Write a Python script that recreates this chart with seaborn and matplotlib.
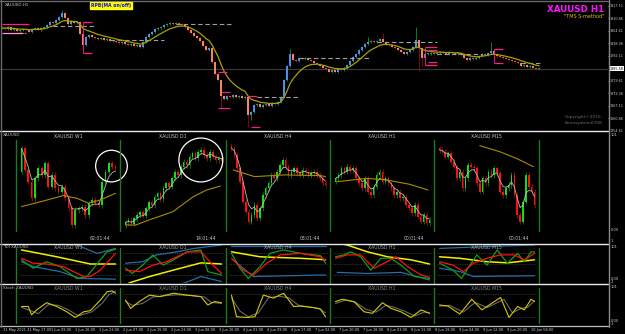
import numpy as np
import pandas as pd
import matplotlib
matplotlib.use("Agg")
import matplotlib.pyplot as plt
from matplotlib.lines import Line2D
import matplotlib.transforms as mtransforms
import seaborn as sns

sns.set_theme(style="dark")
plt.rcParams["font.family"] = ["DejaVu Sans"]

W, H = 625, 334

# ---------------- main chart data (XAUUSD H1) ----------------
main_open0 = 1906.5
main_close = [
    1906, 1905.5, 1906.5, 1905, 1905.5, 1904.5, 1905,
    1905.5, 1905, 1904, 1905.5, 1906, 1905, 1906, 1906.5,
    1907.5, 1909, 1908.5, 1910, 1911.5,
    1913.5, 1911, 1908, 1909.5, 1908.5, 1909, 1903, 1897.5, 1901.5, 1902.5,
    1901.5, 1901, 1900.5, 1901, 1900, 1900.5, 1899.5, 1899.5, 1899, 1898.5, 1899, 1898, 1897.5, 1898, 1897, 1897.5, 1896.5,
    1899, 1901.5, 1903,
    1904, 1905.5, 1906, 1906.5, 1907.5, 1908, 1908.5,
    1908, 1908.5, 1908, 1907.5,
    1906.5, 1905, 1903.5, 1902, 1901, 1899.5,
    1897, 1895, 1896,
    1889, 1883, 1880, 1872, 1870.5,
    1872, 1871.5, 1872.5, 1871.5, 1872, 1871, 1871.5,
    1862.5, 1864, 1867.5, 1868, 1866.5, 1867.5, 1868, 1867, 1868.5, 1868, 1869, 1871.5,
    1880, 1887, 1893,
    1890, 1889.5, 1891, 1890.5, 1891, 1890,
    1889.5, 1888.5, 1888, 1887, 1886, 1885.5, 1884, 1885, 1884, 1885.5, 1885,
    1886, 1887.5, 1889.5, 1891.5, 1893, 1895, 1896.5, 1898, 1899,
    1899.5, 1899, 1899.5, 1900.5, 1899,
    1898, 1897.5, 1896.5, 1896, 1895, 1894, 1893, 1894, 1895,
    1896.5, 1900, 1896, 1891, 1893,
    1893, 1893.5, 1893, 1893.5, 1894, 1893.5, 1893, 1894, 1893.5, 1893, 1893.5,
    1892.5, 1891, 1890, 1891, 1890.5, 1891, 1892,
    1893, 1892.5, 1893.5, 1894.5, 1893,
    1892, 1891.5, 1891, 1890.5, 1890, 1889.5, 1889, 1888.5,
    1887, 1887.5, 1886.5, 1887, 1886, 1885.5, 1886,
]
main_high_spikes = {20: 1915.0, 96: 1895.5, 122: 1901.5, 127: 1903.5, 138: 1906.5, 163: 1899.0}
main_low_spikes = {27: 1893.5, 73: 1866.0, 82: 1856.5, 83: 1860.0, 139: 1884.0, 140: 1887.0}
main_price_ticks = [1917.11, 1910.86, 1904.61, 1898.36, 1892.11, 1879.61, 1873.36, 1867.11, 1860.86, 1854.61]
last_price = 1885.58
date_labels = ["31 May 2021", "31 May 17:00", "1 Jun 09:00", "1 Jun 16:00", "1 Jun 23:00",
               "2 Jun 07:00", "2 Jun 15:00", "2 Jun 23:00", "3 Jun 08:00", "3 Jun 16:00",
               "4 Jun 01:00", "4 Jun 09:00", "4 Jun 17:00", "7 Jun 02:00", "7 Jun 10:00",
               "7 Jun 18:00", "8 Jun 03:00", "8 Jun 11:00", "8 Jun 19:00", "9 Jun 04:00",
               "9 Jun 12:00", "9 Jun 20:00", "10 Jun 04:00"]
pivot_level = [1903.5, 1907.0, 1900.0, 1908.0, 1871.5, 1891.0, 1899.0, 1893.0, 1888.5]
pivot_from = [5, 17, 36, 58, 85, 99, 125, 145, 173]
pivot_to = [8, 31, 54, 77, 99, 123, 145, 160, 180]
bracket_level = [1908.0, 1903.5, 1909.0, 1893.5, 1884.0, 1874.0, 1866.0, 1872.0, 1856.5,
                 1896.5, 1895.0, 1889.0, 1887.5, 1895.5, 1888.5]
bracket_from = [0, 0, 27, 27, 72, 73, 72, 82, 83, 141, 142, 142, 141, 164, 164]
bracket_to = [9, 7, 30, 30, 75, 76, 76, 85, 86, 145, 145, 145, 145, 167, 167]

# ---------------- multi-timeframe panel ----------------
tf_names = ["XAUUSD W1", "XAUUSD D1", "XAUUSD H4", "XAUUSD H1", "XAUUSD M15"]
tf_timers = ["62:01:44", "14:01:44", "03:01:44", "00:01:44", "00:01:44"]

w1_open0 = 1832
w1_close = [1916, 1838, 1796, 1736, 1808, 1844, 1820, 1862, 1778, 1820, 1772, 1760, 1778, 1736, 1700,
            1640, 1694, 1700, 1706, 1676, 1718, 1730, 1718, 1712, 1796, 1832, 1862, 1850, 1844]
w1_slow_x = [0, 6.5, 12.5, 16.5, 20, 23.5, 28]
w1_slow_y = [1706, 1726, 1746, 1736, 1718, 1730, 1754]

d1_open0 = 1755
d1_close = [1760.2, 1764.8, 1757.6, 1768, 1774.5, 1779.7, 1773.2, 1787.5, 1799.2, 1794, 1810.3, 1816.8,
            1805.7, 1826.5, 1836.3, 1829.8, 1846, 1859, 1852.5, 1868.8, 1878.5, 1872, 1888.3, 1894.8,
            1885, 1898, 1901.3, 1891.5, 1885, 1898, 1888.3, 1881.8, 1885, 1879.8]
d1_slow_x = [0, 3.5, 8.1, 16.3, 23.3, 27.9, 32.6]
d1_slow_y = [1755, 1755, 1764.8, 1781, 1810.3, 1823.3, 1831]

h4_open0 = 1914.2
h4_close = [1912.2, 1907.1, 1896.9, 1886.7, 1871.4, 1863.7, 1856.1, 1861.2, 1868.8, 1858.6, 1866.3, 1876.5,
            1881.6, 1885.4, 1891.8, 1889.2, 1894.3, 1899.4, 1903.2, 1898.1, 1891.8, 1894.3, 1896.9, 1893,
            1891.8, 1895.6, 1894.3, 1891.8, 1893, 1894.3, 1891.8, 1889.2, 1885.4, 1884.1]
h4_slow_x = [0.6, 8.1, 18.6, 31.4, 33]
h4_slow_y = [1895.6, 1890.5, 1891.8, 1891.2, 1890.5]

h1_open0 = 1886
h1_close = [1888, 1890, 1894, 1892, 1895, 1893, 1894, 1888, 1885, 1882, 1888, 1880, 1878, 1883, 1890,
            1892, 1886, 1888, 1885, 1882, 1878, 1880, 1876, 1877, 1872, 1870, 1867, 1872, 1865, 1862,
            1866, 1861, 1863]
h1_slow_x = [0.6, 10.7, 17.4, 25.3, 31.5]
h1_slow_y = [1886, 1888, 1887, 1884.4, 1881]

m15_open0 = 1893
m15_close = [1892.5, 1892, 1890.5, 1891.5, 1889, 1887.5, 1884, 1886, 1881, 1884, 1888, 1887.5, 1887,
             1882.5, 1880, 1884, 1882.5, 1886, 1885, 1887, 1885.5, 1880, 1879, 1881, 1882, 1885, 1879,
             1873, 1871, 1877, 1885, 1881.5, 1880, 1876]
m15_slow_x = [14, 20.9, 26.7, 32.6]
m15_slow_y = [1893.8, 1892, 1890, 1887.5]

# ---------------- TDI (bar position, value) ----------------
tdi_w1_upper = [(0, 104), (10, 106), (16.5, 100), (22.5, 78), (28, 91)]
tdi_w1_lower = [(0, 56), (3.5, 43), (11.5, 30), (17.5, 12), (28, 10)]
tdi_w1_base = [(0, 87), (10.5, 69), (20.5, 50), (28, 50)]
tdi_w1_rsi = [(0, 61), (3.5, 39), (7.5, 56), (11.5, 43), (16.5, 12), (19.5, 17), (23.5, 61), (25.5, 82), (28, 89)]
tdi_w1_sig = [(0, 65), (3.5, 52), (7.5, 50), (12.5, 43), (18.5, 17), (20.5, 17), (23.5, 34), (28, 78)]

tdi_d1_upper = [(0, 52), (5, 56), (9, 74), (15, 82), (20, 91), (28, 100)]
tdi_d1_lower = [(15, -5), (17.5, 1), (22, 17), (28, 4)]
tdi_d1_base = [(1, 0), (7, 17), (14, 34), (22, 53), (28, 50)]
tdi_d1_rsi = [(0, 39), (2, 25), (5, 47), (8, 74), (11, 47), (14, 61), (18, 82), (22, 87), (24, 30), (28, 21)]
tdi_d1_sig = [(0, 34), (4, 30), (8, 47), (12, 56), (18, 82), (22, 82), (25, 52), (28, 25)]

tdi_h4_upper = [(0, 98), (28, 98)]
tdi_h4_lower = [(0.5, 61), (6.5, 17), (26.5, 21), (28, 21)]
tdi_h4_base = [(0, 82), (8.5, 69), (20.5, 65), (26.5, 62), (28, 61)]
tdi_h4_rsi = [(0, 78), (2.5, 39), (5, 12), (8.5, 43), (11.5, 78), (15.5, 87), (20.5, 78), (26.5, 72), (28, 52)]
tdi_h4_sig = [(0, 65), (3.5, 34), (6.5, 21), (10.5, 52), (14.5, 74), (20.5, 78), (26.5, 69), (28, 60)]

tdi_h1_upper = [(0, 104), (28, 104)]
tdi_h1_lower = [(0.5, 28), (9.5, 25), (19.5, 28), (28, 8)]
tdi_h1_base = [(0, 106), (3.5, 100), (9.5, 82), (15.5, 69), (22.5, 61), (28, 50)]
tdi_h1_rsi = [(0, 69), (2.5, 74), (4.5, 82), (7.5, 69), (10.5, 34), (13.5, 65), (16.5, 65), (19.5, 47), (23.5, 17), (28, 12)]
tdi_h1_sig = [(0, 65), (3.5, 74), (7.5, 74), (11.5, 39), (14.5, 52), (18, 69), (21.5, 43), (25.5, 21), (28, 15)]

tdi_m15_upper = [(0, 91), (14, 96), (28, 100)]
tdi_m15_lower = [(0, 39), (6, 30), (10, 17), (18, 18), (28, 19)]
tdi_m15_base = [(0, 69), (6, 65), (14, 56), (20, 53), (28, 61)]
tdi_m15_rsi = [(0, 52), (4, 34), (6.5, 12), (9, 47), (11, 74), (14, 47), (17, 87), (20, 52), (23, 78), (25, 56), (27, 82), (28, 82)]
tdi_m15_sig = [(0, 56), (4, 47), (7, 30), (10, 52), (14, 65), (18, 74), (22, 74), (25, 61), (28, 78)]

tdi_levels = [78, 50, 22]

# ---------------- Stochastic (bar position, value) ----------------
st_w1_main = [(0, 47), (2, 47), (3, 25), (4.5, 38), (7.5, 57), (10.5, 47), (13.5, 33), (16, 18), (18.5, 33), (20.5, 36), (23.5, 64), (25.5, 86), (27, 88), (28, 82)]
st_w1_sig = [(0, 45), (3, 35), (5, 28), (8, 52), (11, 50), (14, 38), (17, 22), (19, 28), (21, 33), (24, 55), (26, 78), (28, 87)]
st_d1_main = [(0, 64), (1.5, 42), (4, 60), (7, 77), (10, 73), (14, 82), (18, 77), (22, 73), (24, 51), (26, 60), (28, 57)]
st_d1_sig = [(0, 60), (2, 50), (5, 55), (8, 72), (11, 75), (15, 78), (19, 76), (23, 72), (25, 58), (28, 55)]
st_h4_main = [(0, 77), (1.5, 20), (4.5, 18), (7, 20), (9.5, 77), (12.5, 69), (15.5, 82), (18.5, 47), (20.5, 48), (24.5, 44), (26.5, 40), (28, 20)]
st_h4_sig = [(0, 70), (2.5, 35), (5, 20), (8, 30), (11, 70), (14, 74), (17, 70), (20, 50), (23, 46), (26, 42), (28, 30)]
st_h1_main = [(0, 60), (2, 66), (5.5, 60), (8.5, 33), (11, 29), (14, 57), (16.5, 42), (19.5, 33), (22.5, 18), (25.5, 38), (28, 29)]
st_h1_sig = [(0, 55), (3, 64), (6, 58), (9, 40), (12, 32), (15, 50), (17.5, 45), (20.5, 35), (23.5, 22), (26.5, 32), (28, 30)]
st_m15_main = [(0, 51), (2.5, 48), (6, 27), (9.5, 66), (12.5, 38), (18, 71), (20.5, 18), (23, 47), (25, 38), (27, 66), (28, 60)]
st_m15_sig = [(0, 48), (3, 50), (7, 32), (10.5, 58), (14, 44), (19, 66), (21.5, 30), (24, 42), (26, 45), (28, 62)]
st_levels = [80, 20]

# ================= drawing =================
fig = plt.figure(figsize=(W / 100, H / 100), dpi=100)
fig.patch.set_facecolor("black")


def add_ax(x0, y0, x1, y1):
    ax = fig.add_axes([x0 / W, 1 - y1 / H, (x1 - x0) / W, (y1 - y0) / H])
    ax.set_facecolor("none")
    for s in ax.spines.values():
        s.set_visible(False)
    ax.grid(False)
    return ax


def fline(x0, y0, x1, y1, color, lw=1.0, ls="-"):
    fig.add_artist(Line2D([x0 / W, x1 / W], [1 - y0 / H, 1 - y1 / H], color=color, lw=lw, ls=ls,
                          transform=fig.transFigure))


def ftext(x, y, s, size=3.3, color="#c8c8c8", **kw):
    fig.text(x / W, 1 - y / H, s, fontsize=size, color=color, va="center", **kw)


def draw_candles(ax, opens, closes, highs, lows, body_cols, wick_cols, width):
    x = np.arange(len(closes))
    ax.vlines(x, lows, highs, colors=wick_cols, lw=0.6, zorder=2)
    hgt = closes - opens
    minh = (ax.get_ylim()[1] - ax.get_ylim()[0]) * 0.006
    hgt = np.where(np.abs(hgt) < minh, minh, hgt)
    ax.bar(x, hgt, bottom=opens, width=width, color=body_cols, linewidth=0, zorder=3)


def sline(ax, xs, ys, color, lw, z=4):
    df = pd.DataFrame({"x": xs, "y": ys})
    sns.lineplot(data=df, x="x", y="y", color=color, linewidth=lw, ax=ax, legend=False,
                 estimator=None, sort=False, zorder=z)
    ax.set_xlabel("")
    ax.set_ylabel("")


# ---- main chart ----
axm = add_ax(0, 1, 608, 131)
axm.set_xlim(-2 / 3, 606 / 3)
axm.set_ylim(1854.4, 1919.5)
mc = np.array(main_close, dtype=float)
mo = np.concatenate([[main_open0], mc[:-1]])
mh = np.maximum(mo, mc) + 0.6
ml = np.minimum(mo, mc) - 0.6
for i, v in main_high_spikes.items():
    mh[i] = v
for i, v in main_low_spikes.items():
    ml[i] = v
chg = mc - mo
body = np.where(chg >= 0, np.where(chg >= 1, "#4a8ee8", "#2f9a3a"),
                np.where(chg <= -1, "#f5845f", "#d9583e"))
wick = np.where(chg >= 0, "#1f8f1f", "#8c0a1e")
axm.axhline(last_price, color="#3a3a3a", lw=0.8, zorder=1)
draw_candles(axm, mo, mc, mh, ml, body, wick, 0.7)
ema = pd.Series(mc).ewm(span=9, adjust=False).mean()
sline(axm, np.arange(len(mc)), ema.values, "#a8a000", 0.9, z=5)
for lv, a, b in zip(pivot_level, pivot_from, pivot_to):
    axm.hlines(lv, a, b, colors="#a0a0a0", lw=0.8, linestyles=(0, (4, 2.5)), zorder=4)
for lv, a, b in zip(bracket_level, bracket_from, bracket_to):
    col = "#ff99dd" if (a == 0 and lv < 1905) else "#ff1a8c"
    axm.hlines(lv, a, b, colors=col, lw=0.9, zorder=6)
axm.vlines([27, 141, 164], [1893.5, 1887.5, 1888.5], [1909.0, 1896.5, 1895.5], colors="#ff1a8c", lw=0.6, zorder=6)
axm.yaxis.tick_right()
axm.set_yticks(main_price_ticks)
axm.set_yticklabels([f"{v:.2f}" for v in main_price_ticks])
axm.tick_params(axis="y", colors="#c8c8c8", labelsize=2.45, length=1.0, width=0.5, pad=0.5, right=True)
axm.tick_params(axis="x", bottom=False, labelbottom=False)
axm.text(1.003, last_price, f"{last_price:.2f}", transform=axm.get_yaxis_transform(), fontsize=2.45,
         color="black", va="center", ha="left",
         bbox=dict(boxstyle="square,pad=0.15", fc="white", ec="white", lw=0))

# ---- date axis ----
axd = add_ax(0, 326.5, 608, 327)
axd.set_xlim(-2 / 3, 606 / 3)
axd.set_yticks([])
idx = np.arange(len(date_labels)) * 8
axd.set_xticks(idx)
axd.set_xticklabels([])
axd.tick_params(axis="x", colors="#d0d0d0", length=4, width=0.5, direction="out")
tr = mtransforms.blended_transform_factory(axd.transData, fig.transFigure)
for i, lab in zip(idx, date_labels):
    axd.text(i + 0.3, 1 - 329.8 / H, lab, transform=tr, fontsize=2.5, color="#d8d8d8",
             ha="left", va="center")

# ---- lower panels ----
sep = [16, 120, 226, 330, 434, 539]
tf_data = [
    (w1_open0, w1_close, w1_slow_x, w1_slow_y, (1618, 1946)),
    (d1_open0, d1_close, d1_slow_x, d1_slow_y, (1743.3, 1920.8)),
    (h4_open0, h4_close, h4_slow_x, h4_slow_y, (1848.9, 1918.5)),
    (h1_open0, h1_close, h1_slow_x, h1_slow_y, (1856.4, 1911.0)),
    (m15_open0, m15_close, m15_slow_x, m15_slow_y, (1868.2, 1895.5)),
]
tdi_sets = [
    (tdi_w1_upper, tdi_w1_lower, tdi_w1_base, tdi_w1_rsi, tdi_w1_sig),
    (tdi_d1_upper, tdi_d1_lower, tdi_d1_base, tdi_d1_rsi, tdi_d1_sig),
    (tdi_h4_upper, tdi_h4_lower, tdi_h4_base, tdi_h4_rsi, tdi_h4_sig),
    (tdi_h1_upper, tdi_h1_lower, tdi_h1_base, tdi_h1_rsi, tdi_h1_sig),
    (tdi_m15_upper, tdi_m15_lower, tdi_m15_base, tdi_m15_rsi, tdi_m15_sig),
]
st_sets = [(st_w1_main, st_w1_sig), (st_d1_main, st_d1_sig), (st_h4_main, st_h4_sig),
           (st_h1_main, st_h1_sig), (st_m15_main, st_m15_sig)]
circles = {0: (26.8, 1852, 520), 1: (25.9, 1881.8, 1000)}


def set_bars_xlim(ax, w, n):
    sp = (w - 10) / (n - 1)
    ax.set_xlim(-5.5 / sp, (w - 5.5) / sp)


for k in range(5):
    x0, x1 = sep[k], sep[k + 1]
    w = x1 - x0
    # candles
    op0, cl, sx, sy, yl = tf_data[k]
    ax = add_ax(x0, 140, x1, 231)
    ax.set_ylim(*yl)
    ax.set_xticks([]); ax.set_yticks([])
    c = np.array(cl, dtype=float)
    o = np.concatenate([[op0], c[:-1]])
    pad = (yl[1] - yl[0]) * 0.03
    hi = np.maximum(o, c) + pad
    lo = np.minimum(o, c) - pad
    up = c >= o
    draw_candles(ax, o, c, hi, lo, np.where(up, "#10e010", "#ff1010"), np.where(up, "#0c7a0c", "#9a0a0a"), 0.55)
    set_bars_xlim(ax, w, len(c))
    fast = pd.Series(c).ewm(span=4, adjust=False).mean()
    sline(ax, np.arange(len(c)), fast.values, "#b8b8b8", 0.6)
    sline(ax, sx, sy, "#a88c00", 0.8)
    if k in circles:
        cx, cy, s = circles[k]
        ax.scatter([cx], [cy], s=s, facecolors="none", edgecolors="white", linewidths=0.9, clip_on=False, zorder=7)
    ftext((x0 + x1) / 2, 136, tf_names[k], ha="center")
    ftext(x1 - 20, 238, tf_timers[k], ha="center")

    # TDI
    at = add_ax(x0, 245, x1, 283)
    at.set_ylim(0, 100)
    at.set_xticks([]); at.set_yticks([])
    set_bars_xlim(at, w, 29)
    for lv in tdi_levels:
        at.axhline(lv, color="#5c5c5c", lw=0.5, ls=(0, (1, 1.5)), xmin=0.03, xmax=0.97)
    up_b, lo_b, base, rsi, sig = tdi_sets[k]
    for pts, col, lw in [(up_b, "#1f6fa8", 0.9), (lo_b, "#1f6fa8", 0.9), (base, "#f0f000", 1.1),
                         (rsi, "#10a010", 0.9), (sig, "#ff1010", 0.9)]:
        sline(at, [p[0] for p in pts], [p[1] for p in pts], col, lw)
    at.set_ylim(0, 100)
    ftext((x0 + x1) / 2, 247.5, tf_names[k], ha="center", color="#a8a8a8")

    # Stochastic
    as_ = add_ax(x0, 286.4, x1, 324.3)
    as_.set_ylim(0, 100)
    as_.set_xticks([]); as_.set_yticks([])
    set_bars_xlim(as_, w, 29)
    for lv in st_levels:
        as_.axhline(lv, color="#5c5c5c", lw=0.5, ls=(0, (1, 1.5)), xmin=0.03, xmax=0.97)
    mn, sg = st_sets[k]
    sline(as_, [p[0] for p in sg], [p[1] for p in sg], "#6a6a6a", 0.8)
    sline(as_, [p[0] for p in mn], [p[1] for p in mn], "#d8c800", 0.8)
    as_.set_ylim(0, 100)
    ftext((x0 + x1) / 2, 288.5, tf_names[k], ha="center", color="#8a8a8a")

# green separators
for x in sep:
    fline(x, 140, x, 231, "#1d7a1d", 1.0)
    fline(x, 248, x, 283, "#1d7a1d", 1.0)
    fline(x, 288, x, 323, "#1d7a1d", 1.0)

# frame lines
for y in (131, 244, 284):
    fline(0, y, 608, y, "#e8e8e8", 1.0)
fline(0, 326.3, 608, 326.3, "#bdbdbd", 0.9)
fline(608.5, 0, 608.5, 327, "#8a8a8a", 1.0)
fline(0.5, 0, 0.5, 327, "#6a6a6a", 1.0)
fline(0, 0.5, 608, 0.5, "#6a6a6a", 1.0)

# right-axis labels of the lower panels
for y, s in [(135, "101"), (230, "0.00"), (240.5, "-1"), (247.5, "101"), (279, "0.00"), (282, "-1"),
             (287.5, "101"), (320.5, "0.00"), (324, "-1")]:
    ftext(610.5, y, s, size=2.6, color="#c8c8c8", ha="left")

# texts
ftext(5, 4.5, "XAUUSD,H1", size=3.0, color="#c0c0c0", ha="left")
fig.text(111 / W, 1 - 5.5 / H, "RPB(MA on/off)", fontsize=3.3, color="#1010e0", fontweight="bold",
         ha="center", va="center", bbox=dict(boxstyle="square,pad=0.25", fc="#ffff00", ec="#ffff00"))
ftext(604, 9, "XAUUSD H1", size=6.3, color="#ff10ff", ha="right", fontweight="bold")
ftext(604, 17, "\"TMS S-method\"", size=3.5, color="#e8b800", ha="right")
ftext(565, 117, "Copyright©2016", size=3.2, color="#6e6e6e", ha="left")
ftext(565, 123, "forexsystem0708", size=3.2, color="#6e6e6e", ha="left")
ftext(3, 135.5, "XAUUSD", size=3.0, color="#c0c0c0", ha="left")
ftext(3, 247.5, "TDI XAUUSD", size=3.0, color="#c0c0c0", ha="left")
ftext(3, 288, "Stoch XAUUSD", size=3.0, color="#c0c0c0", ha="left")

fig.savefig("out.png", dpi=100, facecolor="black")
